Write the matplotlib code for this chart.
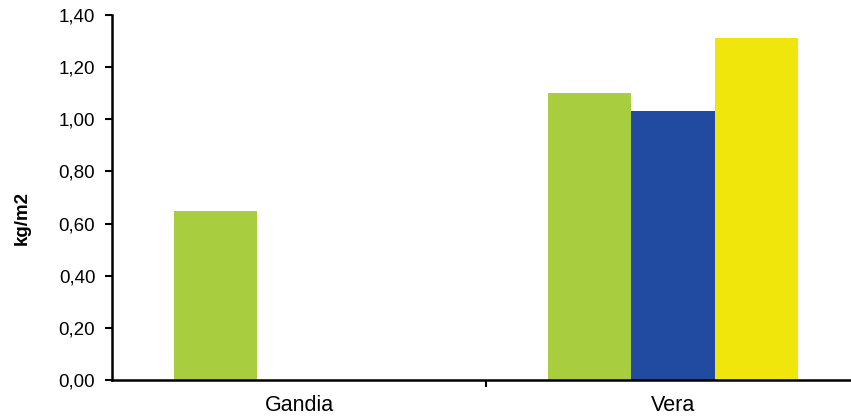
import matplotlib.pyplot as plt
import numpy as np
from matplotlib.ticker import FuncFormatter, FixedLocator

# data
sites = ['Gandia', 'Vera']
serie1 = [0.65, 1.10]   # verde
serie2 = [0.0, 1.03]    # azul
serie3 = [0.0, 1.31]    # amarillo
colores = ['#A8CD3E', '#214BA0', '#F0E60B']

plt.rcParams['font.family'] = ['Liberation Sans', 'DejaVu Sans']

fig = plt.figure(figsize=(8.51, 4.19), dpi=100)
ax = fig.add_axes([112/851, 1 - 380/419, 748/851, 365/419])

x = np.arange(len(sites))
w = 0.222
for i, (vals, c) in enumerate(zip([serie1, serie2, serie3], colores)):
    ax.bar(x + (i - 1) * w, vals, width=w, color=c, edgecolor='none', zorder=2)

ax.set_xlim(-0.5, 1.5)
ax.set_ylim(0, 1.40)
ax.set_yticks(np.arange(0, 1.41, 0.2))
ax.yaxis.set_major_formatter(FuncFormatter(lambda v, p: f'{v:.2f}'.replace('.', ',')))
ax.set_xticks(x)
ax.set_xticklabels(sites, fontsize=15.5)
ax.xaxis.set_minor_locator(FixedLocator([0.5]))
ax.tick_params(axis='x', which='major', length=0, pad=11)
ax.tick_params(axis='x', which='minor', length=5, width=1.5, direction='out')
ax.tick_params(axis='y', length=5, width=1.5, direction='out', labelsize=13.5, pad=7)

ax.set_ylabel('kg/m2', fontsize=13.5, fontweight='bold')
ax.yaxis.set_label_coords(-0.109, 0.445)

for s in ['top', 'right']:
    ax.spines[s].set_visible(False)
for s in ['left', 'bottom']:
    ax.spines[s].set_linewidth(1.8)

fig.savefig('out.png', dpi=100)
